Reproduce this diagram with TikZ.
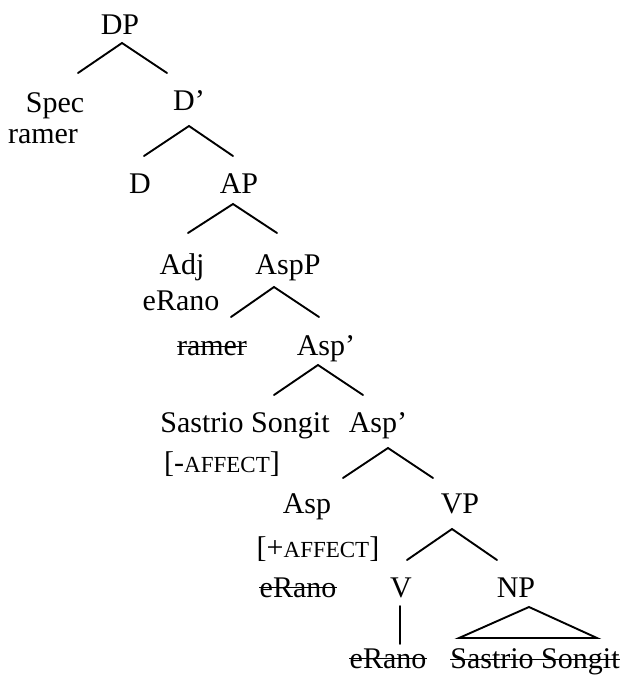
\documentclass[tikz,border=0pt]{standalone}
\usepackage{fontspec}
\setmainfont{Liberation Serif}
\newcommand\myaffect{{\fontsize{23}{23}\selectfont AFFECT}}
\begin{document}
\begin{tikzpicture}[x=1pt,y=-1pt,
  lab/.style={anchor=base,inner sep=0pt,font=\fontsize{30}{34}\selectfont},
  edge/.style={line width=1.9pt,line cap=round,line join=miter},
  strikeline/.style={line width=1.6pt}]
\useasboundingbox (0,0) rectangle (623,678);
% nodes
\node[lab] (DP) at (120,34) {DP};
\node[lab] (Spec) at (55,112) {Spec};
\node[lab] (ramerA) at (43,143) {ramer};
\node[lab] (Dbar) at (189,110) {D’};
\node[lab] (D) at (140,193) {D};
\node[lab] (AP) at (239,193) {AP};
\node[lab] (Adj) at (182,274) {Adj};
\node[lab] (eRanoA) at (181,310) {eRano};
\node[lab] (AspP) at (288,274) {AspP};
\node[lab] (ramerB) at (212,355) {ramer};
\node[lab] (AspbarA) at (326,355) {Asp’};
\node[lab] (SSA) at (245,432) {Sastrio Songit};
\node[lab] (AspbarB) at (378,432) {Asp’};
\node[lab] (minus) at (222,472) {[-\myaffect]};
\node[lab] (Asp) at (307,513) {Asp};
\node[lab] (plus) at (318,557) {[+\myaffect]};
\node[lab] (eRanoB) at (298,597) {eRano};
\node[lab] (VP) at (460,513) {VP};
\node[lab] (V) at (401,597) {V};
\node[lab] (NP) at (516,597) {NP};
\node[lab] (eRanoC) at (388,668) {eRano};
\node[lab] (SSB) at (535,668) {Sastrio Songit};
% strike-through lines
\foreach \n/\h in {ramerB/8.5,eRanoB/9.5,eRanoC/9.5,SSB/8.5}{
  \draw[strikeline] ([yshift=\h pt]\n.base west) -- ([yshift=\h pt]\n.base east);
}
% branch coordinates
\coordinate (a1) at (122,43);  \coordinate (l1) at (78,73);   \coordinate (r1) at (167,73);
\coordinate (a2) at (189,126); \coordinate (l2) at (144,156); \coordinate (r2) at (233,156);
\coordinate (a3) at (233,204); \coordinate (l3) at (188,233); \coordinate (r3) at (277,233);
\coordinate (a4) at (274,287); \coordinate (l4) at (231,317); \coordinate (r4) at (319,317);
\coordinate (a5) at (318,365); \coordinate (l5) at (274,395); \coordinate (r5) at (363,395);
\coordinate (a6) at (388,448); \coordinate (l6) at (343,478); \coordinate (r6) at (433,478);
\coordinate (a7) at (452,529); \coordinate (l7) at (407,560); \coordinate (r7) at (497,560);
\coordinate (vt) at (400,606); \coordinate (vb) at (400,644);
\coordinate (a8) at (529,607); \coordinate (l8) at (459,638); \coordinate (r8) at (597,638);
\foreach \i in {1,...,7}{
  \draw[edge] (l\i) -- (a\i) -- (r\i);
}
\draw[edge] (vt) -- (vb);
\draw[edge] (l8) -- (a8) -- (r8) -- cycle;
\end{tikzpicture}
\end{document}
